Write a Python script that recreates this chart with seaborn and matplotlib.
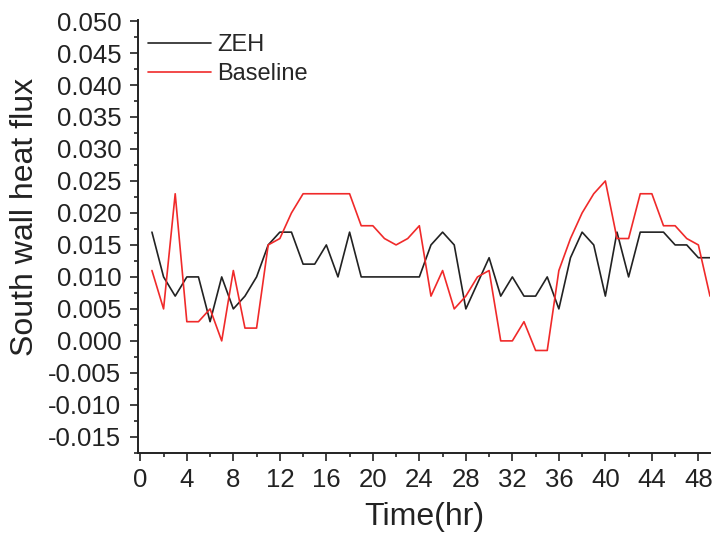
import matplotlib
matplotlib.use("Agg")
import matplotlib.pyplot as plt
from matplotlib.ticker import MultipleLocator, FormatStrFormatter
import numpy as np
import pandas as pd
import seaborn as sns

# Hourly south wall heat flux over two days
hours = list(range(1, 50))
zeh = [0.017, 0.010, 0.007, 0.010, 0.010, 0.003, 0.010, 0.005, 0.007, 0.010,
       0.015, 0.017, 0.017, 0.012, 0.012, 0.015, 0.010, 0.017, 0.010, 0.010,
       0.010, 0.010, 0.010, 0.010, 0.015, 0.017, 0.015, 0.005, 0.009, 0.013,
       0.007, 0.010, 0.007, 0.007, 0.010, 0.005, 0.013, 0.017, 0.015, 0.007,
       0.017, 0.010, 0.017, 0.017, 0.017, 0.015, 0.015, 0.013, 0.013]
baseline = [0.011, 0.005, 0.023, 0.003, 0.003, 0.005, 0.000, 0.011, 0.002, 0.002,
            0.015, 0.016, 0.020, 0.023, 0.023, 0.023, 0.023, 0.023, 0.018, 0.018,
            0.016, 0.015, 0.016, 0.018, 0.007, 0.011, 0.005, 0.007, 0.010, 0.011,
            0.000, 0.000, 0.003, -0.0015, -0.0015, 0.011, 0.016, 0.020, 0.023, 0.025,
            0.016, 0.016, 0.023, 0.023, 0.018, 0.018, 0.016, 0.015, 0.007]
series_names = ["ZEH", "Baseline"]
series_colors = ["#222222", "#f02a2a"]
x_ticks = list(range(0, 49, 4))

df = pd.DataFrame({
    "Time(hr)": hours * 2,
    "flux": zeh + baseline,
    "series": [series_names[0]] * len(hours) + [series_names[1]] * len(hours),
})

sns.set_style("ticks")
plt.rcParams["font.family"] = ["Liberation Sans", "DejaVu Sans"]

fig = plt.figure(figsize=(7.15, 5.34), dpi=100)
ax = fig.add_axes([0.193, 0.152, 0.800, 0.811])

sns.lineplot(data=df, x="Time(hr)", y="flux", hue="series",
             palette=dict(zip(series_names, series_colors)),
             linewidth=1.2, ax=ax, legend=True)

ax.set_xlim(-0.2, 49)
ax.set_ylim(-0.0175, 0.0502)
ax.set_xticks(x_ticks)
ax.xaxis.set_minor_locator(MultipleLocator(2))
ax.yaxis.set_major_locator(MultipleLocator(0.005))
ax.yaxis.set_minor_locator(MultipleLocator(0.0025))
ax.yaxis.set_major_formatter(FormatStrFormatter("%.3f"))

ax.tick_params(axis="both", which="major", direction="out", length=6,
               width=1.2, labelsize=18.5, colors="#222222")
ax.tick_params(axis="y", which="major", pad=6)
ax.tick_params(axis="x", which="major", pad=5)
ax.tick_params(axis="both", which="minor", direction="out", length=3,
               width=1.2, colors="#222222")
for side in ["left", "bottom"]:
    ax.spines[side].set_linewidth(1.4)
    ax.spines[side].set_color("#222222")
for side in ["top", "right"]:
    ax.spines[side].set_visible(False)

ax.set_xlabel("Time(hr)", fontsize=23, color="#222222")
ax.set_ylabel("South wall heat flux", fontsize=23, color="#222222")
ax.yaxis.set_label_coords(-0.172, 0.545)
ax.xaxis.set_label_coords(0.5, -0.113)

leg = ax.legend(loc="upper left", bbox_to_anchor=(-0.008, 1.0), frameon=False,
                fontsize=17, handlelength=2.7, handletextpad=0.25,
                labelspacing=0.32, borderaxespad=0.2)
for line in leg.get_lines():
    line.set_linewidth(1.2)

fig.savefig("out.png", dpi=100)
